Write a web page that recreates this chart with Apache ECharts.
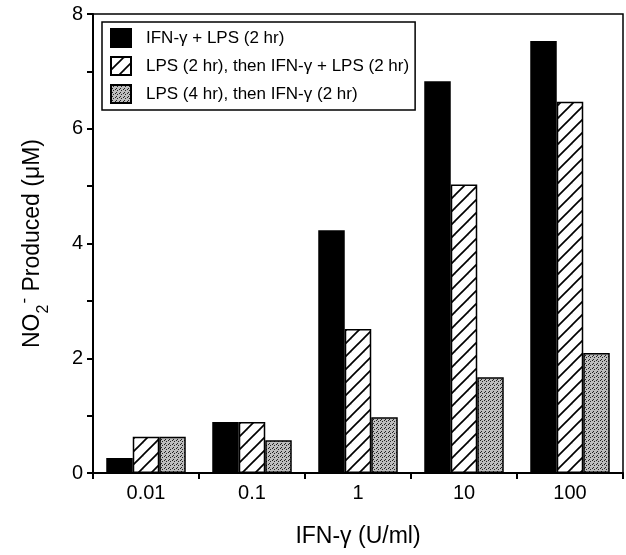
<!DOCTYPE html>
<html>
<head>
<meta charset="utf-8">
<script src="https://cdn.jsdelivr.net/npm/echarts@6/dist/echarts.min.js"></script>
<style>
html,body{margin:0;padding:0;background:#fff;}
#chart{width:626px;height:555px;}
</style>
</head>
<body>
<div id="chart"></div>
<script>
const categories = ['0.01', '0.1', '1', '10', '100'];
const seriesNames = ['IFN-γ + LPS (2 hr)', 'LPS (2 hr), then IFN-γ + LPS (2 hr)', 'LPS (4 hr), then IFN-γ (2 hr)'];
const ifnLps = [0.26, 0.89, 4.23, 6.83, 7.53];
const lpsThenIfnLps = [0.63, 0.89, 2.51, 5.03, 6.47];
const lpsThenIfn = [0.63, 0.57, 0.97, 1.67, 2.09];
const yLabelValues = [0, 2, 4, 6, 8];

function hatchPattern() {
  const T = 13;
  const c = document.createElement('canvas');
  c.width = T; c.height = T;
  const g = c.getContext('2d');
  g.fillStyle = '#fff'; g.fillRect(0, 0, T, T);
  g.strokeStyle = '#000'; g.lineWidth = 1.7;
  for (const o of [-T, 0, T]) {
    g.beginPath(); g.moveTo(o - 2, T + 2); g.lineTo(o + T + 2, -2); g.stroke();
  }
  return { image: c, repeat: 'repeat' };
}
function dotPattern() {
  const c = document.createElement('canvas');
  c.width = 4; c.height = 4;
  const g = c.getContext('2d');
  g.fillStyle = '#bdbdbd'; g.fillRect(0, 0, 4, 4);
  g.fillStyle = '#222';
  [[0,0],[2,1],[1,3]].forEach(p => g.fillRect(p[0], p[1], 1, 1));
  return { image: c, repeat: 'repeat' };
}

const chart = echarts.init(document.getElementById('chart'), null, { renderer: 'canvas' });
const font = 'Liberation Sans, Arial, Helvetica, sans-serif';
const barBase = { type: 'bar', barGap: '0%', barCategoryGap: '25%', animation: false };

chart.setOption({
  animation: false,
  textStyle: { fontFamily: font, color: '#000' },
  grid: { left: 93, right: 3, top: 14, bottom: 82, show: true, borderColor: '#000', borderWidth: 1.5, backgroundColor: 'transparent' },
  legend: {
    orient: 'vertical', left: 102, top: 22,
    padding: [6, 6, 6, 8],
    icon: 'rect',
    itemWidth: 20, itemHeight: 18, itemGap: 8,
    borderColor: '#000', borderWidth: 1.5,
    textStyle: { fontSize: 17, color: '#000', fontFamily: font, padding: [0, 0, 0, 10] },
    data: seriesNames
  },
  xAxis: {
    type: 'category', data: categories,
    axisLine: { lineStyle: { color: '#000', width: 2 } },
    axisTick: { show: true, inside: false, length: 6, lineStyle: { color: '#000', width: 2 } },
    axisLabel: { fontSize: 20, color: '#000', margin: 10, fontFamily: font },
    name: 'IFN-γ (U/ml)', nameLocation: 'middle', nameGap: 52,
    nameTextStyle: { fontSize: 23, color: '#000', fontFamily: font }
  },
  yAxis: {
    type: 'value', min: 0, max: 8, interval: 1,
    axisLine: { show: true, lineStyle: { color: '#000', width: 2 } },
    axisTick: { show: true, inside: false, length: 6, lineStyle: { color: '#000', width: 2 } },
    splitLine: { show: false },
    axisLabel: { fontSize: 20, color: '#000', margin: 10, fontFamily: font,
      formatter: v => yLabelValues.includes(v) ? String(v) : '' },
    name: '{a|NO}{sub|2}{sup|-}{a| Produced (μM)}', nameLocation: 'middle', nameGap: 47,
    nameTextStyle: {
      fontFamily: font, color: '#000',
      rich: {
        a: { fontSize: 23, fontFamily: font, color: '#000', lineHeight: 26 },
        sub: { fontSize: 16, fontFamily: font, color: '#000', verticalAlign: 'bottom', lineHeight: 16, padding: [0, 0, -6, 0] },
        sup: { fontSize: 17, fontFamily: font, color: '#000', verticalAlign: 'top', lineHeight: 16, padding: [-4, 0, 0, 1] }
      }
    }
  },
  series: [
    Object.assign({}, barBase, { name: seriesNames[0], data: ifnLps,
      itemStyle: { color: '#000', borderColor: '#000', borderWidth: 1.5 } }),
    Object.assign({}, barBase, { name: seriesNames[1], data: lpsThenIfnLps,
      itemStyle: { color: hatchPattern(), borderColor: '#000', borderWidth: 1.5 } }),
    Object.assign({}, barBase, { name: seriesNames[2], data: lpsThenIfn,
      itemStyle: { color: dotPattern(), borderColor: '#000', borderWidth: 1.5 } })
  ]
});
</script>
</body>
</html>
